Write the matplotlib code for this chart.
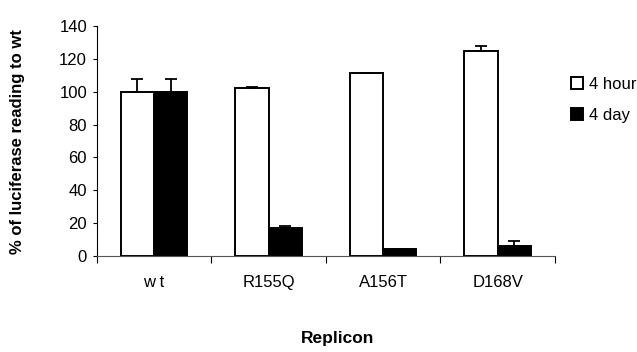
import numpy as np
import matplotlib.pyplot as plt

plt.rcParams['font.family'] = ['Liberation Sans', 'DejaVu Sans']

categories = ['w t', 'R155Q', 'A156T', 'D168V']
hour4 = [100, 102, 111.5, 125]
hour4_err = [8, 1, 0, 3]
day4 = [100, 17, 4, 6]
day4_err = [8, 1, 0, 3]

x = np.arange(len(categories))
w = 0.29

fig = plt.figure(figsize=(6.37, 3.52), dpi=100)
ax = fig.add_axes([0.152, 0.273, 0.719, 0.653])

err_kw = dict(ecolor='black', elinewidth=1.3, capsize=4.5, capthick=1.3)
ax.bar(x - w / 2, hour4, w, color='white', edgecolor='black', linewidth=1.4,
       yerr=[np.zeros(len(hour4)), hour4_err], error_kw=err_kw, label='4 hour')
ax.bar(x + w / 2, day4, w, color='black', edgecolor='black', linewidth=1.4,
       yerr=[np.zeros(len(day4)), day4_err], error_kw=err_kw, label='4 day')

ax.set_xlim(-0.5, 3.5)
ax.set_ylim(0, 140)
ax.set_yticks(range(0, 141, 20))
ax.set_xticks(x)
ax.set_xticklabels(categories, fontsize=12)
ax.set_xticks(np.arange(-0.5, 3.6, 1), minor=True)
ax.tick_params(axis='x', which='major', length=0, pad=13.5)
ax.tick_params(axis='x', which='minor', length=5, width=0.8, direction='out')
ax.tick_params(axis='y', length=3, width=0.8, labelsize=12, pad=4)

for s in ['top', 'right']:
    ax.spines[s].set_visible(False)
ax.spines['left'].set_linewidth(0.8)
ax.spines['bottom'].set_linewidth(0.8)
ax.spines['bottom'].set_color('#555555')

ax.set_ylabel('% of luciferase reading to wt', fontsize=12, fontweight='bold', va='center')
ax.yaxis.set_label_coords(-0.173, 0.496)
fig.text(338 / 637, 1 - 338 / 352, 'Replicon', fontsize=12.5, fontweight='bold',
         ha='center', va='center')

ax.legend(loc='center left', bbox_to_anchor=(1.036, 0.68), frameon=False, fontsize=12,
          handlelength=0.7, handleheight=0.7, handletextpad=0.35, labelspacing=0.95,
          borderpad=0, borderaxespad=0)

fig.savefig('out.png', dpi=100)
